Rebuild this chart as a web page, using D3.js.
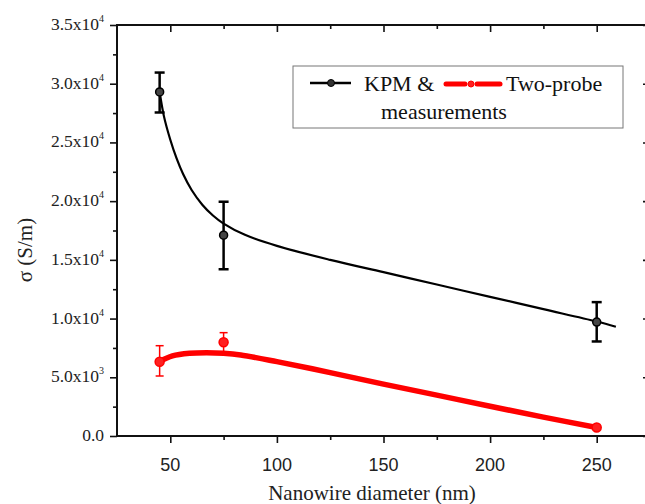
<!DOCTYPE html>
<html lang="en">
<head>
<meta charset="UTF-8">
<title>Conductivity vs nanowire diameter</title>
<script src="https://d3js.org/d3.v7.min.js"></script>
<style>
  body { margin: 0; background: #fff; }
  svg { display: block; }
</style>
</head>
<body>
<svg width="645" height="504"></svg>
<script>
// measured points
const diameters = [45, 75, 250];
const kpmValues = [29300, 17100, 9700];
const kpmLow = [27550, 14200, 8050];
const kpmHigh = [30950, 19950, 11400];
const probeValues = [6330, 7980, 720];
const probeLow = [5110, 7150, 720];
const probeHigh = [7690, 8800, 720];

// fitted guide curves
const kpmFitX = [45, 47, 50, 53, 56, 60, 65, 70, 75, 85, 100, 125, 150, 175, 200, 225, 250, 259];
const kpmFitY = [29300, 27240, 25230, 23620, 22310, 20950, 19700, 18780, 18090, 17130, 16190, 15000, 13950, 12900, 11850, 10800, 9750, 9300];
const probeFitX = [45, 51, 59, 67, 75, 83, 100, 125, 150, 175, 200, 225, 250];
const probeFitY = [6330, 6815, 7045, 7095, 7045, 6900, 6330, 5400, 4420, 3480, 2530, 1610, 720];

const xTicks = [50, 100, 150, 200, 250];
const yTicks = [0, 5000, 10000, 15000, 20000, 25000, 30000, 35000];

const SERIF = "'Liberation Serif', 'Times New Roman', 'DejaVu Serif', serif";
const SANS = "'Liberation Sans', Arial, sans-serif";

const svg = d3.select("svg");
const mLeft = 117, mRight = 650, mTop = 25, mBottom = 436;

const x = d3.scaleLinear().domain([25, 275]).range([mLeft, mRight]);
const y = d3.scaleLinear().domain([0, 35000]).range([mBottom, mTop]);

const xMinor = [75, 125, 175, 225];
const yMinor = d3.range(2500, 35000, 5000);

function tickLabel(v) {
  if (v === 0) return null;
  const e = Math.floor(Math.log10(v));
  return { m: (v / Math.pow(10, e)).toFixed(1), e: e };
}

const g = svg.append("g");
function ticks(axis, pos, vals, size) {
  g.append("g").attr("transform", pos)
    .call(axis.tickValues(vals).tickSize(size).tickFormat(""))
    .call(a => a.select(".domain").remove());
}
// bottom (outward) and top (inward)
ticks(d3.axisBottom(x), `translate(0,${mBottom})`, xTicks, 7);
ticks(d3.axisBottom(x), `translate(0,${mBottom})`, xMinor, 4);
ticks(d3.axisBottom(x), `translate(0,${mTop})`, xTicks, 7);
ticks(d3.axisBottom(x), `translate(0,${mTop})`, xMinor, 4);
// left (outward) and right (inward)
ticks(d3.axisLeft(y), `translate(${mLeft},0)`, yTicks, 7);
ticks(d3.axisLeft(y), `translate(${mLeft},0)`, yMinor, 4);
ticks(d3.axisLeft(y), `translate(${mRight},0)`, yTicks, 7);
ticks(d3.axisLeft(y), `translate(${mRight},0)`, yMinor, 4);

g.selectAll(".tick line").attr("stroke", "#111").attr("stroke-width", 1.6);

svg.append("rect")
  .attr("x", mLeft).attr("y", mTop)
  .attr("width", mRight - mLeft).attr("height", mBottom - mTop)
  .attr("fill", "none").attr("stroke", "#111").attr("stroke-width", 2);

// x tick labels
svg.append("g").selectAll("text").data(xTicks).join("text")
  .attr("font-family", SANS)
  .attr("x", d => x(d)).attr("y", mBottom + 35)
  .attr("text-anchor", "middle").attr("font-size", 18).attr("fill", "#222")
  .text(d => d);

// y tick labels
const yl = svg.append("g").selectAll("text").data(yTicks).join("text")
  .attr("font-family", SERIF)
  .attr("x", 104).attr("y", d => y(d) + 5)
  .attr("text-anchor", "end").attr("font-size", 17.5).attr("fill", "#222");
yl.each(function(d) {
  const t = d3.select(this);
  const lab = tickLabel(d);
  if (!lab) { t.text("0.0"); return; }
  t.append("tspan").text(lab.m + "x10");
  t.append("tspan").attr("dy", -8).attr("font-size", 10).text(lab.e);
});

// axis titles
svg.append("text").attr("font-family", SERIF)
  .attr("x", 372).attr("y", 500).attr("text-anchor", "middle")
  .attr("font-size", 21).attr("fill", "#222")
  .text("Nanowire diameter (nm)");
svg.append("text").attr("font-family", SERIF)
  .attr("transform", "translate(32,250) rotate(-90)")
  .attr("text-anchor", "middle").attr("font-size", 21).attr("fill", "#222")
  .text("σ (S/m)");

// fit curves
const line = d3.line().x(d => x(d[0])).y(d => y(d[1])).curve(d3.curveCatmullRom.alpha(0.5));
svg.append("path")
  .attr("d", line(probeFitX.map((v, i) => [v, probeFitY[i]])))
  .attr("fill", "none").attr("stroke", "#ff0000").attr("stroke-width", 5.5)
  .attr("stroke-linecap", "round");
svg.append("path")
  .attr("d", line(kpmFitX.map((v, i) => [v, kpmFitY[i]])))
  .attr("fill", "none").attr("stroke", "#000").attr("stroke-width", 2.2);

// error bars + markers
function drawSeries(vals, lo, hi, color, sw, cap, r, fill) {
  const s = svg.append("g");
  diameters.forEach((d, i) => {
    if (hi[i] !== lo[i]) {
      s.append("line").attr("x1", x(d)).attr("x2", x(d))
        .attr("y1", y(lo[i])).attr("y2", y(hi[i]))
        .attr("stroke", color).attr("stroke-width", sw);
      [lo[i], hi[i]].forEach(v => s.append("line")
        .attr("x1", x(d) - cap).attr("x2", x(d) + cap)
        .attr("y1", y(v)).attr("y2", y(v))
        .attr("stroke", color).attr("stroke-width", sw));
    }
    s.append("circle").attr("cx", x(d)).attr("cy", y(vals[i])).attr("r", r)
      .attr("fill", fill).attr("stroke", color).attr("stroke-width", 1.5);
  });
}
drawSeries(kpmValues, kpmLow, kpmHigh, "#000", 2.5, 5, 4, "#444");
drawSeries(probeValues, probeLow, probeHigh, "#ff0000", 1.5, 4, 4.5, "#ff2020");

// legend
const lg = svg.append("g");
lg.append("rect").attr("x", 293).attr("y", 66).attr("width", 330).attr("height", 62)
  .attr("fill", "#fff").attr("stroke", "#777").attr("stroke-width", 1);
lg.append("line").attr("x1", 310).attr("x2", 351).attr("y1", 83).attr("y2", 83)
  .attr("stroke", "#000").attr("stroke-width", 2.5);
lg.append("circle").attr("cx", 331).attr("cy", 83).attr("r", 3.5)
  .attr("fill", "#333").attr("stroke", "#000");
lg.append("text").attr("font-family", SERIF).attr("x", 364).attr("y", 91)
  .attr("font-size", 22).attr("fill", "#111").text("KPM &");
[[446, 465], [477, 500]].forEach(s => lg.append("line")
  .attr("x1", s[0]).attr("x2", s[1]).attr("y1", 84).attr("y2", 84)
  .attr("stroke", "#ff0000").attr("stroke-width", 5).attr("stroke-linecap", "round"));
lg.append("circle").attr("cx", 471).attr("cy", 84).attr("r", 3)
  .attr("fill", "#ff2020").attr("stroke", "#ff0000");
lg.append("text").attr("font-family", SERIF).attr("x", 506).attr("y", 91)
  .attr("font-size", 22).attr("fill", "#111").text("Two-probe");
lg.append("text").attr("font-family", SERIF).attr("x", 381).attr("y", 119)
  .attr("font-size", 22).attr("fill", "#111").text("measurements");
</script>
</body>
</html>
